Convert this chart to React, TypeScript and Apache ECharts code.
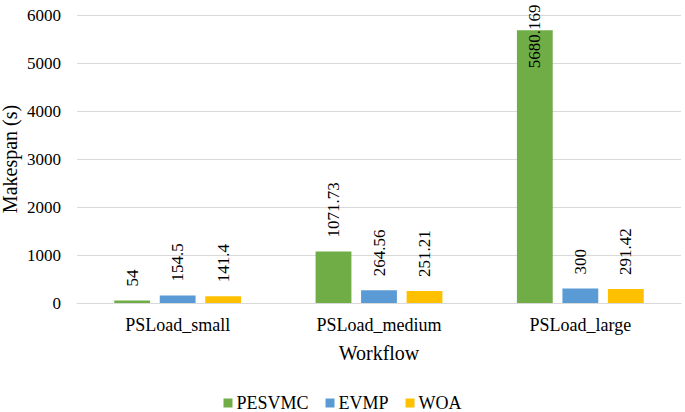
import React, { useRef, useEffect } from 'react'
import * as echarts from 'echarts'

const categories = ['PSLoad_small', 'PSLoad_medium', 'PSLoad_large']
const seriesNames = ['PESVMC', 'EVMP', 'WOA']
const pesvmc = [54, 1071.73, 5680.169]
const evmp = [154.5, 264.56, 300]
const woa = [141.4, 251.21, 291.42]
const labelTexts = [
  ['54', '1071.73', '5680.169'],
  ['154.5', '264.56', '300'],
  ['141.4', '251.21', '291.42']
]
const colors = ['#70AD47', '#5B9BD5', '#FFC000']

const FONT = 'Liberation Serif'

const App: React.FC = () => {
  const chartRef = useRef<HTMLDivElement>(null)

  useEffect(() => {
    if (!chartRef.current) return
    document.body.style.margin = '0'
    const chart = echarts.init(chartRef.current, undefined, { renderer: 'svg' })

    const values = [pesvmc, evmp, woa]
    const series = values.map((vals, si) => ({
      name: seriesNames[si],
      type: 'bar',
      barGap: '27%',
      barCategoryGap: '37%',
      itemStyle: { color: colors[si] },
      data: vals.map((v) => {
        const item: any = { value: v }
        // 顶部放不下的标签，移到柱内
        if (v > 5000) {
          item.label = { position: ['50%', 38] }
        }
        return item
      }),
      label: {
        show: true,
        position: 'top',
        distance: 14,
        rotate: 90,
        align: 'left',
        verticalAlign: 'middle',
        color: '#000',
        fontFamily: FONT,
        fontSize: 17,
        formatter: (p: any) => labelTexts[si][p.dataIndex]
      }
    }))

    chart.setOption({
      animation: false,
      textStyle: { fontFamily: FONT },
      grid: {
        left: 77,
        right: 4,
        top: 15,
        bottom: 109,
        containLabel: false,
        outerBoundsMode: 'none'
      },
      legend: {
        data: seriesNames,
        top: 389,
        left: 'center',
        icon: 'rect',
        itemWidth: 9,
        itemHeight: 9,
        itemGap: 17,
        textStyle: { fontFamily: FONT, fontSize: 18, color: '#000', padding: [0, 0, 0, -1] }
      },
      xAxis: {
        type: 'category',
        data: categories,
        name: 'Workflow',
        nameLocation: 'middle',
        nameGap: 40,
        nameMoveOverlap: false,
        nameTextStyle: { fontFamily: FONT, fontSize: 20, color: '#000' },
        axisLine: { lineStyle: { color: '#D9D9D9' } },
        axisTick: { show: false },
        axisLabel: { fontFamily: FONT, fontSize: 18, color: '#000', margin: 13 }
      },
      yAxis: {
        type: 'value',
        min: 0,
        max: 6000,
        interval: 1000,
        name: 'Makespan (s)',
        nameLocation: 'middle',
        nameGap: 57,
        nameMoveOverlap: false,
        nameTextStyle: { fontFamily: FONT, fontSize: 20, color: '#000' },
        axisLine: { show: false },
        axisTick: { show: false },
        axisLabel: {
          fontFamily: FONT,
          fontSize: 17,
          color: '#000',
          margin: 16,
          formatter: (v: number) => String(v)
        },
        splitLine: { lineStyle: { color: '#D9D9D9' } }
      },
      series
    })

    return () => {
      chart.dispose()
    }
  }, [])

  return <div ref={chartRef} style={{ width: 685, height: 412 }} />
}

export default App
